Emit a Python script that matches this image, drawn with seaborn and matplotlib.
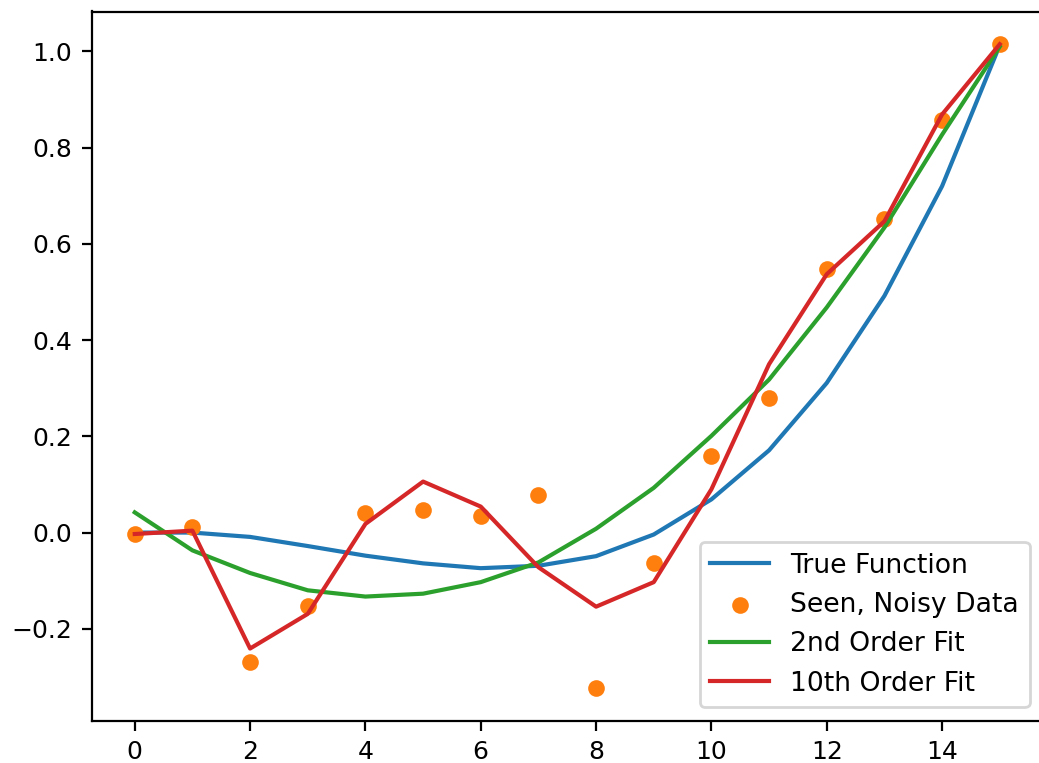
import numpy as np
import matplotlib
matplotlib.use("Agg")
import matplotlib.pyplot as plt
import seaborn as sns

x_vals = list(range(16))
true_function = [0.0, 0.0, -0.009, -0.028, -0.048, -0.064, -0.074, -0.069,
                 -0.049, -0.004, 0.069, 0.171, 0.311, 0.492, 0.720, 1.013]
noisy_data = [-0.004, 0.011, -0.268, -0.152, 0.040, 0.047, 0.035, 0.079,
              -0.324, -0.064, 0.160, 0.279, 0.547, 0.651, 0.857, 1.016]
fit_2nd = [0.042, -0.037, -0.084, -0.120, -0.133, -0.127, -0.103, -0.062,
           0.008, 0.093, 0.201, 0.318, 0.468, 0.634, 0.827, 1.010]
fit_10th = [-0.003, 0.004, -0.241, -0.169, 0.018, 0.106, 0.054, -0.072,
            -0.154, -0.103, 0.090, 0.350, 0.537, 0.647, 0.869, 1.015]

plt.rcParams['font.family'] = ['DejaVu Sans']

DPI = 200
fig = plt.figure(figsize=(1039 / DPI, 763 / DPI), dpi=DPI)
ax = fig.add_axes([91.5 / 1039, (763 - 720.7) / 763,
                   (1043 - 91.5) / 1039, (720.7 - 11.5) / 763])

sns.lineplot(x=x_vals, y=true_function, color='#1f77b4', label='True Function',
             ax=ax, linewidth=1.5)
sns.scatterplot(x=x_vals, y=noisy_data, color='#ff7f0e', label='Seen, Noisy Data',
                ax=ax, s=36, linewidth=0, edgecolor=None, zorder=2)
sns.lineplot(x=x_vals, y=fit_2nd, color='#2ca02c', label='2nd Order Fit',
             ax=ax, linewidth=1.5)
sns.lineplot(x=x_vals, y=fit_10th, color='#d62728', label='10th Order Fit',
             ax=ax, linewidth=1.5)

ax.set_xticks([0, 2, 4, 6, 8, 10, 12, 14])
ax.set_yticks([-0.2, 0.0, 0.2, 0.4, 0.6, 0.8, 1.0])
ax.tick_params(labelsize=9, length=3.5, width=0.8, colors='black')
for sp in ax.spines.values():
    sp.set_color('black')
    sp.set_linewidth(0.8)
ax.set_xlabel('')
ax.set_ylabel('')
ax.legend(loc='lower right', fontsize=9.6, frameon=True, framealpha=0.8,
          edgecolor='0.8', fancybox=True, scatterpoints=1, handlelength=2.2)

fig.savefig('out.png', dpi=DPI)
